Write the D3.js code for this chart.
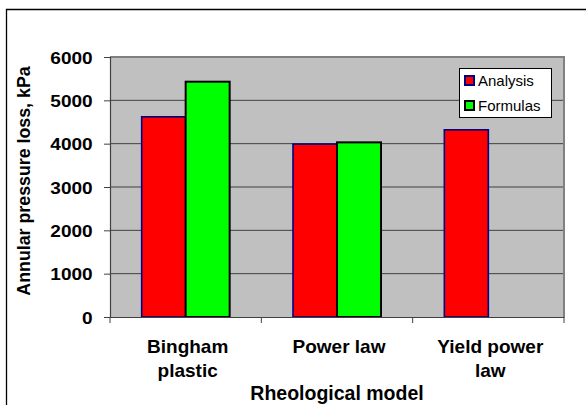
<!DOCTYPE html>
<html><head><meta charset="utf-8">
<script src="https://cdn.jsdelivr.net/npm/d3@7"></script>
<style>
body{margin:0;background:#fff;}
svg text{font-family:"Liberation Sans",Arial,sans-serif;}
</style></head>
<body><svg id="c" width="586" height="405"></svg>
<script>
const categories = [["Bingham","plastic"],["Power law"],["Yield power","law"]];
const categoryKeys = ["Bingham plastic","Power law","Yield power law"];
const seriesNames = ["Analysis","Formulas"];
const analysis = [4620, 3990, 4320];
const formulas = [5430, 4030, null];
const yTicks = [0,1000,2000,3000,4000,5000,6000];

const svg = d3.select("#c");
const L=110,R=564,T=57,B=317;
const x = d3.scaleBand().domain(categoryKeys).range([L,R]).paddingInner(0).paddingOuter(0);
const y = d3.scaleLinear().domain([0,6000]).range([B,T]);
const x1 = d3.scaleBand().domain(seriesNames).range([0,x.bandwidth()]).paddingOuter(0.72).paddingInner(0);
const fills = {Analysis:"#FF0000",Formulas:"#00FF00"};
const strokes = {Analysis:"#000080",Formulas:"#000000"};

// outer frame
svg.append("path").attr("d","M6.5,405V9.5H586").attr("fill","none").attr("stroke","#000").attr("stroke-width",1.3);

// plot area
svg.append("rect").attr("x",L).attr("y",T).attr("width",R-L).attr("height",B-T).attr("fill","#C0C0C0");
// gridlines
svg.append("g").selectAll("line").data(yTicks.filter(d=>d>0)).join("line")
  .attr("x1",L).attr("x2",R).attr("y1",d=>y(d)).attr("y2",d=>y(d))
  .attr("stroke","#404040").attr("stroke-width",1);
// plot border top/right
svg.append("path").attr("d",`M${L},${T}H${R}V${B}`).attr("fill","none").attr("stroke","#808080").attr("stroke-width",2);

// bars
const rows = categoryKeys.map((c,i)=>({c, vals:[{s:"Analysis",v:analysis[i]},{s:"Formulas",v:formulas[i]}].filter(d=>d.v!=null)}));
const g = svg.append("g").selectAll("g").data(rows).join("g").attr("transform",d=>`translate(${x(d.c)},0)`);
g.selectAll("rect").data(d=>d.vals).join("rect")
  .attr("x",d=>x1(d.s)).attr("width",x1.bandwidth())
  .attr("y",d=>y(d.v)).attr("height",d=>y(0)-y(d.v))
  .attr("fill",d=>fills[d.s]).attr("stroke",d=>strokes[d.s]).attr("stroke-width",d=>d.s==="Formulas"?2:1.6);

// y axis
const ya = d3.axisLeft(y).tickValues(yTicks).tickSize(6).tickFormat(d3.format("d"));
const yg = svg.append("g").attr("transform",`translate(${L},0)`).call(ya);
yg.select(".domain").attr("stroke","#404040").attr("stroke-width",1.2);
yg.selectAll(".tick line").attr("stroke","#404040");
yg.selectAll(".tick text").attr("x",-15.5).attr("dy","0.36em")
  .style("font-size","17px").style("font-weight","bold").attr("fill","#000")
  .attr("transform","scale(1.12,1)");

// x axis
const xa = d3.axisBottom(x).tickSize(0).tickFormat("");
const xg = svg.append("g").attr("transform",`translate(0,${B})`).call(xa);
xg.select(".domain").attr("stroke","#404040").attr("stroke-width",1.2);
svg.append("g").selectAll("line").data([...categoryKeys.map(c=>x(c)),R]).join("line")
  .attr("x1",d=>d).attr("x2",d=>d).attr("y1",B).attr("y2",B+6).attr("stroke","#404040");

// category labels
const cl = svg.append("g").selectAll("text").data(categoryKeys).join("text")
  .attr("text-anchor","middle").style("font-size","19px").style("font-weight","bold")
  .attr("transform",(d)=>`translate(${x(d)+x.bandwidth()/2+2},353)`);
cl.selectAll("tspan").data((d,i)=>categories[i]).join("tspan")
  .attr("x",0).attr("dy",(d,i)=>i===0?0:24).text(d=>d);

// axis titles
svg.append("text").attr("x",(L+R)/2).attr("y",400).attr("text-anchor","middle")
  .style("font-size","19.5px").style("font-weight","bold").text("Rheological model");
svg.append("text").attr("transform",`translate(30,${(65+297)/2}) rotate(-90)`).attr("text-anchor","middle")
  .style("font-size","17.8px").style("font-weight","bold").text("Annular pressure loss, kPa");

// legend
const lg = svg.append("g");
lg.append("rect").attr("x",459.5).attr("y",68.5).attr("width",92).attr("height",49).attr("fill","#fff").attr("stroke","#000");
seriesNames.forEach((s,i)=>{
  const yy = 80.5 + i*25;
  lg.append("rect").attr("x",465).attr("y",yy-4.5).attr("width",9).attr("height",9)
    .attr("fill",fills[s]).attr("stroke",strokes[s]).attr("stroke-width",2);
  lg.append("text").attr("x",478).attr("y",yy+5.5).style("font-size","15px").text(s);
});
</script></body></html>
